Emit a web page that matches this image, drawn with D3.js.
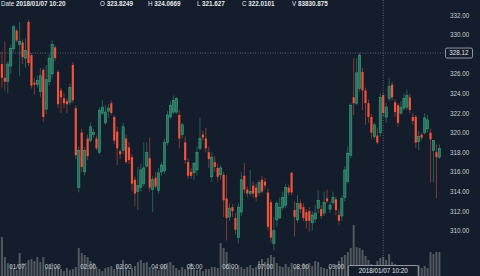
<!DOCTYPE html>
<html>
<head>
<meta charset="utf-8">
<script src="https://cdn.jsdelivr.net/npm/d3@7"></script>
<style>
  html, body { margin: 0; padding: 0; background: #131d2b; }
  svg { display: block; font-family: "Liberation Sans", Arial, sans-serif; }
</style>
</head>
<body>
<div id="chart"></div>
<script>
// 5 minute candles, 01/06 23:35 .. 01/07 11:55
var opens = [327.0,325.6,325.2,326.8,328.6,330.4,329.0,329.2,327.6,331.3,327.9,325.1,324.9,324.2,326.4,322.4,325.2,326.0,328.7,326.2,
  324.3,323.5,323.2,323.1,326.9,322.5,314.4,320.0,316.0,319.4,319.2,319.8,319.4,318.0,322.0,321.0,322.2,323.0,321.6,320.1,
  318.1,318.2,319.4,318.5,317.5,315.2,314.0,314.4,314.8,316.6,317.4,314.2,315.4,314.1,316.0,316.1,319.0,321.6,322.1,322.1,
  321.8,319.8,319.0,317.0,316.0,315.9,316.2,318.4,319.8,319.4,318.0,315.5,317.0,316.4,315.7,315.7,313.3,311.4,312.4,311.3,
  309.3,311.9,315.6,314.2,313.8,314.6,314.4,313.9,315.2,315.0,313.9,312.9,308.7,311.1,311.3,312.4,312.6,314.4,315.9,312.1,
  311.1,312.8,312.4,311.9,312.0,310.8,311.2,312.3,312.2,311.8,313.3,312.2,312.9,313.2,311.6,311.5,313.4,315.0,317.7,323.6,
  323.0,324.5,326.2,324.3,323.0,321.6,319.6,319.7,320.0,323.8249,321.6,323.5,324.9,323.1,322.8,322.0,322.5,322.6,323.6,321.6,
  321.6,319.1,319.8,320.0,320.4,320.0,318.2,318.0,317.5];
var highs = [328.3,329.3,327.3,329.0,331.0,330.6,331.3,329.5,329.6,331.5,328.1,325.6,325.8,326.6,326.6,326.9,328.0,329.4,328.9,326.4,
  324.6,324.0,323.5,325.0,327.2,322.8,318.6,320.4,318.5,319.8,321.0,320.4,319.7,322.6,323.3,322.8,322.9,323.3,321.8,320.6,
  318.3,321.0,319.8,319.0,317.8,315.5,316.5,316.8,319.0,319.0,319.5,315.6,316.0,316.4,317.0,319.4,322.2,323.2,323.8,323.6,
  322.3,321.0,319.6,317.4,316.4,316.9,318.6,321.5,320.2,320.5,318.6,318.0,317.6,316.8,316.7,316.0,315.7,312.8,312.7,311.8,
  312.8,316.0,316.9,314.5,316.2,315.0,314.8,315.2,315.6,315.4,314.3,313.2,311.4,313.0,313.4,314.0,314.8,314.7,316.0,313.0,
  313.6,313.2,312.8,312.2,312.4,312.0,312.6,314.1,312.6,314.0,314.2,313.0,314.0,313.5,312.2,313.6,316.6,318.6,323.0,327.6,
  327.6,328.12,326.6,324.6,323.4,321.9,321.0,320.5,324.0,324.0669,323.0,325.6,325.2,323.4,323.0,323.2,324.0,324.4,324.0,322.0,
  321.8,320.2,320.0,322.0,321.8,320.4,319.2,318.8,318.8];
var lows = [324.6,324.3,324.0,326.0,328.2,329.2,325.8,327.0,326.6,326.8,324.5,323.9,324.6,323.6,321.1,321.9,324.8,325.5,327.3,322.5,
  322.0,322.5,322.0,322.8,323.0,317.3,313.9,316.0,315.6,317.2,319.0,319.5,318.2,317.8,321.8,320.8,321.5,321.8,318.8,316.7,
  317.3,317.8,316.8,316.8,314.0,312.5,312.1,314.0,314.5,316.4,314.0,311.9,314.3,313.8,315.6,315.8,318.7,321.4,321.9,321.9,
  318.4,319.4,316.8,315.3,315.3,315.2,315.6,318.2,319.2,318.0,316.4,315.0,316.0,315.0,315.2,311.4,309.0,311.0,311.4,309.6,
  308.7,311.5,313.8,313.4,313.5,313.4,313.0,313.6,313.8,314.2,310.0,308.8,308.0,310.4,311.2,312.1,312.3,313.6,313.6,309.4,
  310.8,311.8,311.0,310.2,309.9,310.0,310.8,311.8,311.2,311.5,312.8,311.8,312.6,311.6,310.6,311.0,313.0,314.8,317.4,321.8,
  322.8,324.2,322.3,320.8,321.0,319.4,319.4,318.8,319.6,321.627,321.0,323.2,323.3,321.6,320.6,321.8,322.3,322.3,322.0,320.8,
  318.4,318.2,319.2,319.8,320.0,314.9,314.9,313.3,317.3];
var closes = [325.6,325.2,327.0,328.6,330.8,329.4,329.3,327.7,328.4,327.1,324.8,324.9,325.3,325.8,321.6,325.4,327.6,329.0,327.6,322.9,
  323.6,323.0,322.9,324.6,323.3,317.7,318.2,316.5,318.2,317.6,320.6,320.0,318.4,322.3,322.6,322.1,322.5,322.0,319.2,318.4,
  317.8,320.6,317.0,317.2,314.8,313.8,314.6,316.2,316.4,318.0,314.4,315.2,314.5,315.9,316.7,319.0,321.8,322.8,323.3,323.5,
  319.4,320.8,317.2,315.6,315.6,316.9,318.0,319.4,319.5,318.4,317.3,317.5,316.5,315.5,316.4,313.1,311.3,312.3,312.0,310.1,
  312.4,315.2,314.2,313.8,314.0,313.8,313.4,314.9,314.0,314.6,310.4,309.3,310.0,312.8,312.4,313.4,314.4,313.9,313.9,311.4,
  312.8,312.2,311.3,311.0,311.0,311.6,311.8,313.1,311.5,312.9,313.0,312.6,313.4,312.1,311.0,313.3,316.2,317.9,322.8,323.0,
  326.1,327.9,324.3,323.0,321.6,320.0,320.8,319.0,323.6,322.0101,322.6,324.7,323.6,322.1,321.0,322.6,323.5,323.8,322.3,321.2,
  319.0,319.6,319.5,321.5,321.3,319.3,319.2,317.5,318.4];
var volumes = [171600,83600,57200,48400,35200,26400,101200,57200,57200,70400,74800,66000,83600,61600,83600,39600,48400,57200,39600,44000,
  30800,22000,35200,26400,30800,39600,123200,101200,92400,83600,66000,57200,39600,30800,22000,35200,39600,44000,30800,48400,
  39600,70400,39600,26400,35200,44000,61600,70400,57200,61600,39600,30800,35200,26400,44000,52800,57200,61600,48400,35200,
  26400,39600,30800,39600,57200,35200,26400,30800,22000,30800,30800,39600,39600,35200,145200,123200,105600,57200,39600,30800,
  48400,39600,30800,39600,48400,35200,39600,66000,74800,61600,79200,92400,83600,57200,44000,39600,52800,39600,57200,39600,
  44000,35200,57200,48400,57200,44000,66000,61600,39600,35200,30800,39600,26400,48400,66000,83600,92400,105600,123200,224400,
  127600,123200,114400,88000,70400,52800,44000,66000,79200,83830.875,70400,96800,61600,52800,44000,39600,35200,39600,35200,44000,
  39600,48400,35200,44000,35200,105600,96800,105600,105600];
var priceTicks = [310, 312, 314, 316, 318, 320, 322, 324, 326, 328, 330, 332];
var startTime = new Date(2018, 0, 6, 23, 35);
var cursorIndex = 129;      // 2018/01/07 10:20
var cursorPrice = 328.12;

var bg = "#131d2b", upColor = "#3aa07d", downColor = "#f0533c", textColor = "#c9ccd1";

var times = opens.map(function(d, i){ return d3.timeMinute.offset(startTime, 5 * i); });
var candles = opens.map(function(d, i){
    return {t: times[i], o: opens[i], h: highs[i], l: lows[i], c: closes[i], v: volumes[i]};
});

var width = 480, height = 276;

var svg = d3.select("#chart").append("svg")
    .attr("width", width)
    .attr("height", height);

svg.append("rect").attr("width", width).attr("height", height).attr("fill", bg);

var x = d3.scaleTime()
    .domain([times[0], times[times.length - 1]])
    .range([1.9, 439.4]);
var y = d3.scaleLinear().domain([310, 332]).range([230.7, 15]);
var yVol = d3.scaleLinear().domain([0, 240000]).range([276, 221.5]);

var cx = x(times[cursorIndex]), cy = y(cursorPrice);
var timeBoxW = 70;

// volume
svg.append("g").selectAll("rect.vol")
    .data(candles)
    .enter().append("rect")
    .attr("class", "vol")
    .attr("x", function(d){ return x(d.t) - 1; })
    .attr("width", 2)
    .attr("y", function(d){ return yVol(d.v); })
    .attr("height", function(d){ return yVol(0) - yVol(d.v); })
    .attr("fill", "#686c72")
    .attr("opacity", 0.75);

// wicks
svg.append("g").selectAll("line.wick")
    .data(candles)
    .enter().append("line")
    .attr("class", "wick")
    .attr("x1", function(d){ return x(d.t); })
    .attr("x2", function(d){ return x(d.t); })
    .attr("y1", function(d){ return y(d.h); })
    .attr("y2", function(d){ return y(d.l); })
    .attr("stroke", function(d){ return d.c >= d.o ? upColor : downColor; })
    .attr("stroke-opacity", 0.5)
    .attr("stroke-width", 1);

// bodies
svg.append("g").selectAll("rect.body")
    .data(candles)
    .enter().append("rect")
    .attr("class", "body")
    .attr("x", function(d){ return x(d.t) - 1.1; })
    .attr("width", 2.2)
    .attr("y", function(d){ return y(Math.max(d.o, d.c)); })
    .attr("height", function(d){ return Math.max(1, Math.abs(y(d.o) - y(d.c))); })
    .attr("fill", function(d){ return d.c >= d.o ? "#2a6f5c" : downColor; })
    .attr("stroke", function(d){ return d.c >= d.o ? upColor : "none"; })
    .attr("stroke-width", 0.6);

// price axis
var yAxis = svg.append("g")
    .attr("transform", "translate(449,0)")
    .call(d3.axisRight(y).tickValues(priceTicks).tickFormat(d3.format(".2f")).tickSize(0).tickPadding(1));
yAxis.select(".domain").remove();
yAxis.selectAll("text").attr("fill", textColor).style("font-size", "6.3px");

// time axis (labels under the cursor box are hidden, as in the chart)
var hourTicks = x.ticks(d3.timeHour.every(1)).filter(function(t){
    return Math.abs(x(t) - cx) > timeBoxW / 2 + 8;
});
var xAxis = svg.append("g")
    .attr("transform", "translate(0,264.5)")
    .call(d3.axisBottom(x)
        .tickValues(hourTicks)
        .tickFormat(function(d){ return d.getHours() === 0 ? d3.timeFormat("%m/%d")(d) : d3.timeFormat("%H:%M")(d); })
        .tickSize(0).tickPadding(0));
xAxis.select(".domain").remove();
xAxis.selectAll("text").attr("fill", textColor).style("font-size", "6.3px");

// crosshair
svg.append("line")
    .attr("x1", 0).attr("x2", 445).attr("y1", cy).attr("y2", cy)
    .attr("stroke", "#7a828e").attr("stroke-dasharray", "1,1.5").attr("stroke-width", 0.7);
svg.append("line")
    .attr("x1", cx).attr("x2", cx).attr("y1", 0).attr("y2", 266)
    .attr("stroke", "#7a828e").attr("stroke-dasharray", "1,1.5").attr("stroke-width", 0.7);

svg.append("rect")
    .attr("x", 445.5).attr("y", cy - 5).attr("width", 27).attr("height", 10).attr("rx", 1.5)
    .attr("fill", bg).attr("stroke", "#b5b9bf").attr("stroke-width", 0.8);
svg.append("text")
    .attr("x", 459).attr("y", cy + 2.2).attr("text-anchor", "middle")
    .attr("fill", "#e2e4e7").style("font-size", "6.3px")
    .text(d3.format(".2f")(cursorPrice));

svg.append("rect")
    .attr("x", cx - timeBoxW / 2).attr("y", 265.5).attr("width", timeBoxW).attr("height", 14).attr("rx", 1.5)
    .attr("fill", bg).attr("stroke", "#b5b9bf").attr("stroke-width", 0.8);
svg.append("text")
    .attr("x", cx).attr("y", 273).attr("text-anchor", "middle")
    .attr("fill", "#e2e4e7").style("font-size", "6.3px")
    .text(d3.timeFormat("%Y/%m/%d %H:%M")(times[cursorIndex]));

// header
var cur = candles[cursorIndex];
var header = [
    {x: 1, label: "Date", value: d3.timeFormat("%Y/%m/%d %H:%M")(cur.t)},
    {x: 100, label: "O", value: cur.o},
    {x: 148, label: "H", value: cur.h},
    {x: 197, label: "L", value: cur.l},
    {x: 242, label: "C", value: cur.c},
    {x: 292, label: "V", value: cur.v}
];
var ht = svg.append("g").selectAll("text.head")
    .data(header)
    .enter().append("text")
    .attr("class", "head")
    .attr("x", function(d){ return d.x; })
    .attr("y", 6)
    .attr("fill", "#e6e8eb")
    .style("font-size", "6.3px");
ht.append("tspan").text(function(d){ return d.label + " "; });
ht.append("tspan").attr("font-weight", "bold").text(function(d){ return d.value; });
</script>
</body>
</html>
